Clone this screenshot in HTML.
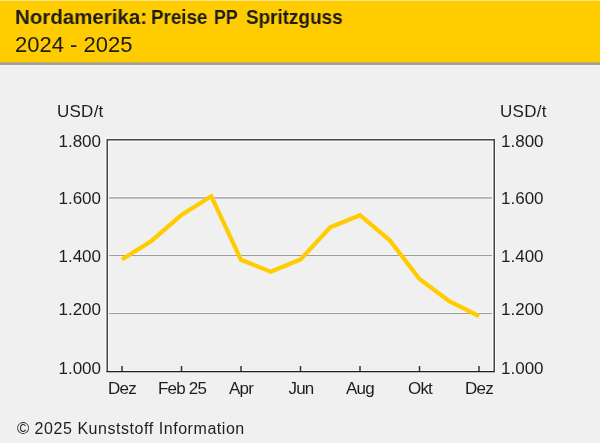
<!DOCTYPE html>
<html>
<head>
<meta charset="utf-8">
<style>
html,body{margin:0;padding:0;}
body{width:600px;height:443px;background:#f0f0f0;position:relative;overflow:hidden;font-family:"Liberation Sans",sans-serif;color:#1e1e1e;}
#hdr{position:absolute;left:0;top:0;width:600px;height:62px;background:#ffcc00;}
#hdr .top{position:absolute;left:0;top:0;width:600px;height:1px;background:#fde48a;}
#hdrline{position:absolute;left:0;top:62px;width:600px;height:1px;background:#c4b060;}
#hdrline2{position:absolute;left:0;top:63px;width:600px;height:2px;background:#a0a0a0;}
#hdrline3{position:absolute;left:0;top:65px;width:600px;height:1px;background:#f5f5f5;}
.t{position:absolute;white-space:nowrap;line-height:1;will-change:transform;}
.tw{top:6px;font-size:21px;font-weight:bold;color:#1c1c1c;transform-origin:0 0;}
#sub{left:15px;top:34px;font-size:22px;color:#1c1c1c;}
.lab{font-size:17px;}
.yl{text-align:right;width:60px;}
.xl{text-align:center;width:80px;font-size:17px;letter-spacing:-0.8px;}
#foot{left:17.5px;top:421px;font-size:16px;letter-spacing:0.55px;}
svg{position:absolute;left:0;top:0;}
</style>
</head>
<body>
<div id="hdr"><div class="top"></div></div>
<div id="hdrline"></div><div id="hdrline2"></div><div id="hdrline3"></div>
<div class="t tw" style="left:14.6px;transform:scaleX(0.975);">Nordamerika:</div>
<div class="t tw" style="left:151.2px;transform:scaleX(0.895);">Preise</div>
<div class="t tw" style="left:214.2px;transform:scaleX(0.846);">PP</div>
<div class="t tw" style="left:246.2px;transform:scaleX(0.9);">Spritzguss</div>
<div class="t" id="sub">2024 - 2025</div>

<svg width="600" height="443" viewBox="0 0 600 443">
  <!-- gridlines -->
  <g stroke="#f8f8f8" stroke-width="1">
    <line x1="108.5" y1="196.5" x2="493" y2="196.5"/>
    <line x1="108.5" y1="254.5" x2="493" y2="254.5"/>
    <line x1="108.5" y1="312.5" x2="493" y2="312.5"/>
  </g>
  <g stroke="#9c9c9c" stroke-width="1.1">
    <line x1="108" y1="197.9" x2="493.3" y2="197.9"/>
    <line x1="108" y1="255.5" x2="493.3" y2="255.5"/>
    <line x1="108" y1="313.5" x2="493.3" y2="313.5"/>
  </g>
  <!-- box -->
  <g stroke="#fafafa" stroke-width="1" fill="none">
    <path d="M105.5 372 V138.5 H495.5 V372"/>
    <path d="M108.5 370 V141.5 H492.5 V370"/>
  </g>
  <path d="M107.25 371.5 V139.8 H494.25 V371.5" fill="none" stroke="#464646" stroke-width="1.5"/>
  <line x1="108.5" y1="370.5" x2="493" y2="370.5" stroke="#f9f9f9" stroke-width="1"/>
  <line x1="106.5" y1="371.6" x2="494.8" y2="371.6" stroke="#1e1e1e" stroke-width="1.3"/>
  <!-- ticks -->
  <g stroke="#333" stroke-width="1.5">
    <line x1="122" y1="366" x2="122" y2="371"/>
    <line x1="181.5" y1="366" x2="181.5" y2="371"/>
    <line x1="241" y1="366" x2="241" y2="371"/>
    <line x1="300.5" y1="366" x2="300.5" y2="371"/>
    <line x1="360" y1="366" x2="360" y2="371"/>
    <line x1="419.5" y1="366" x2="419.5" y2="371"/>
    <line x1="479" y1="366" x2="479" y2="371"/>
  </g>
  <!-- data -->
  <polyline fill="none" stroke="#ffcc00" stroke-width="4.2" stroke-linejoin="miter"
    points="122,259.5 151.75,240.7 181.5,215 211.25,196.2 241,259.8 270.75,271.8 300.5,259.5 330.25,227.3 360,215.2 389.75,240.3 419.5,279 449.25,301.1 479,316.2"/>
</svg>

<div class="t lab" style="left:57px;top:103px;letter-spacing:0.25px;">USD/t</div>
<div class="t lab" style="left:500px;top:103px;letter-spacing:0.3px;">USD/t</div>

<div class="t lab yl" style="left:41px;top:132.5px;">1.800</div>
<div class="t lab yl" style="left:41px;top:190.2px;">1.600</div>
<div class="t lab yl" style="left:41px;top:248.3px;">1.400</div>
<div class="t lab yl" style="left:41px;top:300.8px;">1.200</div>
<div class="t lab yl" style="left:41px;top:359.5px;">1.000</div>

<div class="t lab" style="left:501px;top:132.5px;">1.800</div>
<div class="t lab" style="left:501px;top:190.2px;">1.600</div>
<div class="t lab" style="left:501px;top:248.3px;">1.400</div>
<div class="t lab" style="left:501px;top:300.8px;">1.200</div>
<div class="t lab" style="left:501px;top:359.5px;">1.000</div>

<div class="t xl" style="left:82px;top:380px;">Dez</div>
<div class="t xl" style="left:141.5px;top:380px;">Feb 25</div>
<div class="t xl" style="left:201px;top:380px;">Apr</div>
<div class="t xl" style="left:260.5px;top:380px;">Jun</div>
<div class="t xl" style="left:320px;top:380px;">Aug</div>
<div class="t xl" style="left:379.5px;top:380px;">Okt</div>
<div class="t xl" style="left:439px;top:380px;">Dez</div>

<div class="t" id="foot"><span style="position:relative;left:-1px;font-size:16.6px;margin-right:-1.2px">©</span> 2025 Kunststoff Information</div>
</body>
</html>
